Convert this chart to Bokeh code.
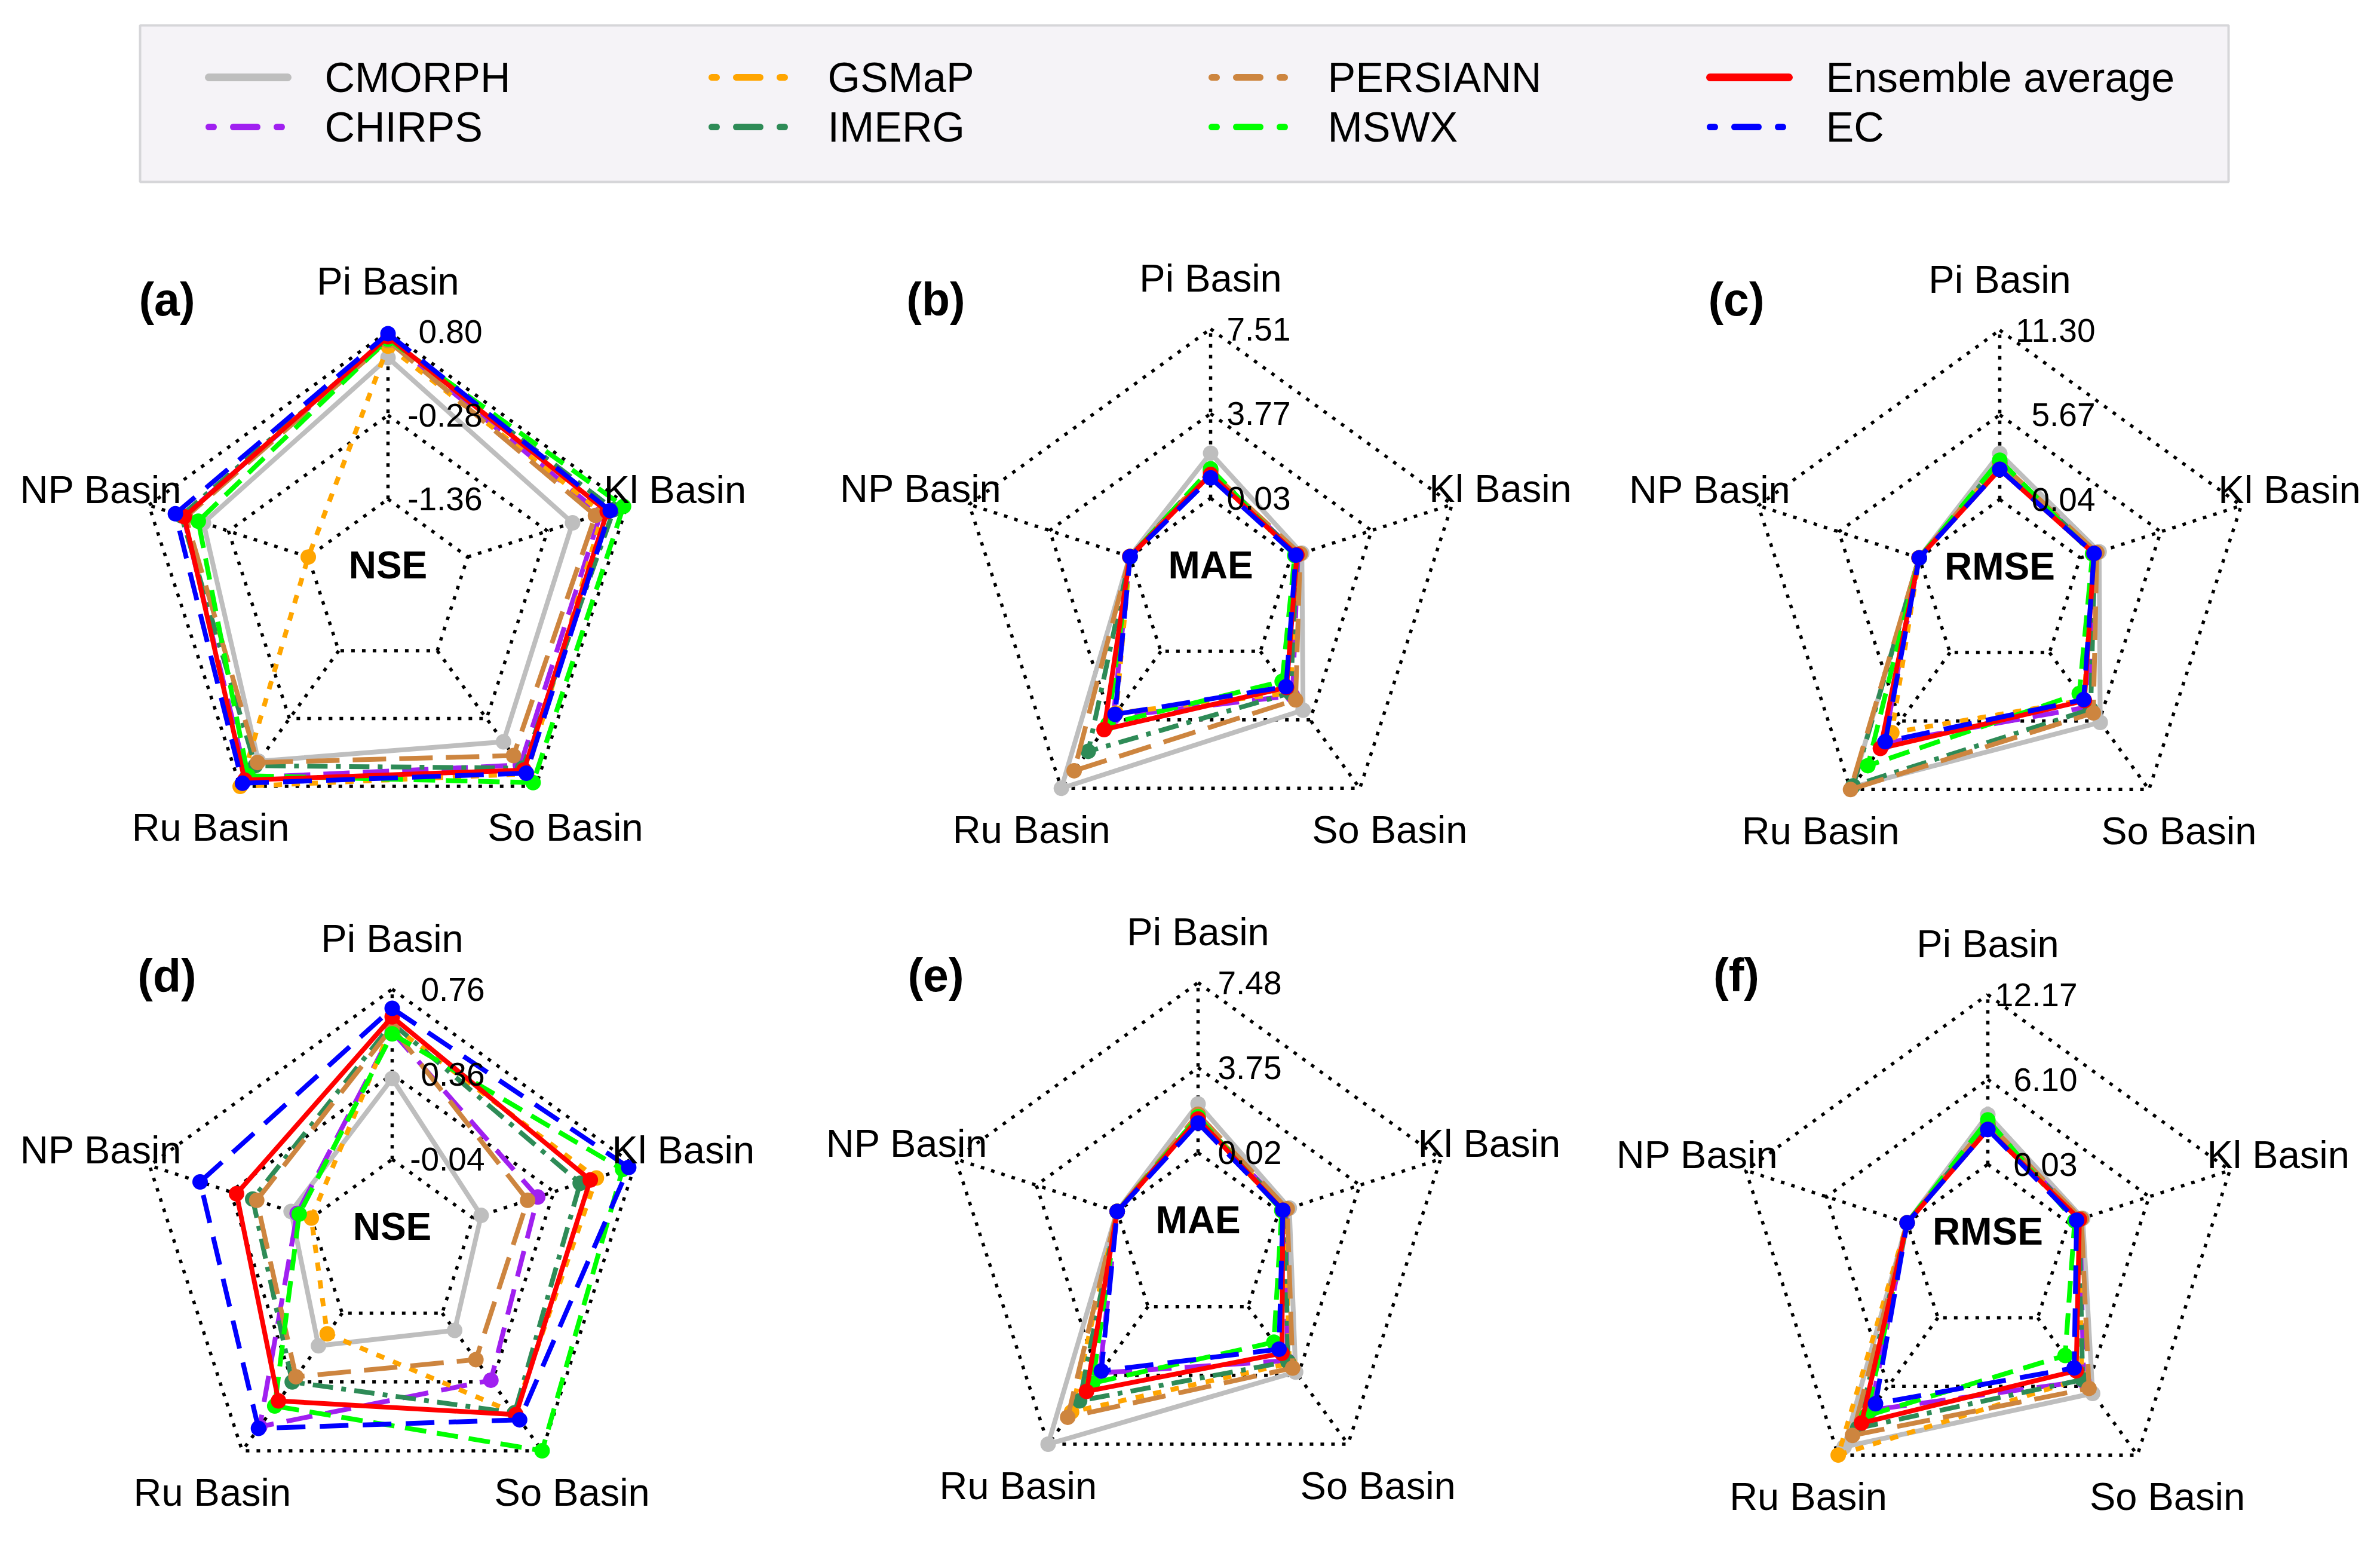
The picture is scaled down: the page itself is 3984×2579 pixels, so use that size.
import math
from bokeh.plotting import figure
from bokeh.models import Range1d
from bokeh.embed import file_html
from bokeh.resources import INLINE
from bokeh.core.properties import value

# ---------------- data ----------------
basins = ["Pi Basin", "Kl Basin", "So Basin", "Ru Basin", "NP Basin"]
products = ["CMORPH", "CHIRPS", "GSMaP", "IMERG", "PERSIANN", "MSWX", "Ensemble average", "EC"]

# values per basin, in the order of `basins`
nse_a = {
    "CMORPH":           [0.46, 0.06, 0.09, 0.40, 0.06],
    "CHIRPS":           [0.70, 0.44, 0.46, 0.66, 0.33],
    "GSMaP":            [0.61, 0.47, 0.60, 0.80, -1.36],
    "IMERG":            [0.71, 0.62, 0.51, 0.47, 0.36],
    "PERSIANN":         [0.68, 0.37, 0.31, 0.42, 0.30],
    "MSWX":             [0.70, 0.75, 0.74, 0.63, 0.13],
    "Ensemble average": [0.73, 0.53, 0.54, 0.70, 0.32],
    "EC":               [0.77, 0.57, 0.59, 0.75, 0.44],
}
mae_b = {
    "CMORPH":           [2.02, 0.53, 3.24, 7.51, 0.05],
    "CHIRPS":           [1.20, 0.35, 2.45, 3.60, 0.04],
    "GSMaP":            [1.25, 0.30, 2.30, 3.40, 0.04],
    "IMERG":            [1.30, 0.30, 2.30, 5.49, 0.04],
    "PERSIANN":         [1.20, 0.45, 2.68, 6.55, 0.05],
    "MSWX":             [1.33, 0.20, 1.67, 4.00, 0.03],
    "Ensemble average": [1.08, 0.30, 2.00, 4.30, 0.04],
    "EC":               [0.93, 0.25, 1.96, 3.47, 0.03],
}
rmse_c = {
    "CMORPH":           [3.09, 1.36, 5.78, 11.10, 0.06],
    "CHIRPS":           [2.40, 1.10, 4.50, 7.50, 0.05],
    "GSMaP":            [2.40, 1.00, 3.95, 6.63, 0.05],
    "IMERG":            [2.50, 1.05, 4.70, 11.00, 0.05],
    "PERSIANN":         [2.50, 1.20, 5.00, 11.30, 0.06],
    "MSWX":             [2.65, 0.90, 3.41, 9.34, 0.04],
    "Ensemble average": [2.04, 1.00, 3.99, 7.92, 0.05],
    "EC":               [2.04, 1.01, 3.90, 7.37, 0.04],
}
nse_d = {
    "CMORPH":           [0.34, 0.00, 0.06, 0.15, 0.06],
    "CHIRPS":           [0.56, 0.28, 0.35, 0.62, 0.03],
    "GSMaP":            [0.59, 0.57, 0.54, 0.08, -0.04],
    "IMERG":            [0.60, 0.49, 0.54, 0.36, 0.25],
    "PERSIANN":         [0.58, 0.23, 0.23, 0.33, 0.23],
    "MSWX":             [0.55, 0.70, 0.76, 0.50, 0.02],
    "Ensemble average": [0.63, 0.54, 0.55, 0.47, 0.33],
    "EC":               [0.67, 0.73, 0.58, 0.63, 0.51],
}
mae_e = {
    "CMORPH":           [2.16, 0.50, 3.57, 7.48, 0.03],
    "CHIRPS":           [1.55, 0.35, 2.95, 3.62, 0.02],
    "GSMaP":            [1.60, 0.30, 3.10, 5.73, 0.02],
    "IMERG":            [1.55, 0.30, 3.00, 5.13, 0.02],
    "PERSIANN":         [1.71, 0.40, 3.35, 6.02, 0.03],
    "MSWX":             [1.60, 0.15, 1.95, 4.17, 0.02],
    "Ensemble average": [1.50, 0.20, 2.55, 4.62, 0.02],
    "EC":               [1.32, 0.20, 2.33, 3.51, 0.02],
}
rmse_f = {
    "CMORPH":           [3.58, 1.10, 6.72, 11.45, 0.04],
    "CHIRPS":           [2.90, 0.90, 5.63, 8.20, 0.03],
    "GSMaP":            [2.90, 0.85, 5.40, 12.17, 0.03],
    "IMERG":            [2.90, 0.85, 5.50, 9.80, 0.03],
    "PERSIANN":         [3.00, 1.00, 6.28, 10.43, 0.04],
    "MSWX":             [3.20, 0.50, 3.37, 8.70, 0.03],
    "Ensemble average": [2.52, 0.85, 4.72, 9.34, 0.03],
    "EC":               [2.52, 0.64, 4.47, 7.63, 0.03],
}

ticks_a = ["-1.36", "-0.28", "0.80"]
ticks_b = ["0.03", "3.77", "7.51"]
ticks_c = ["0.04", "5.67", "11.30"]
ticks_d = ["-0.04", "0.36", "0.76"]
ticks_e = ["0.02", "3.75", "7.48"]
ticks_f = ["0.03", "6.10", "12.17"]

# ---------------- styles ----------------
colors = {
    "CMORPH": "#bebebe", "CHIRPS": "#a020f0", "GSMaP": "#ffa500", "IMERG": "#2e8b57",
    "PERSIANN": "#cd853f", "MSWX": "#00ff00", "Ensemble average": "#ff0000", "EC": "#0000ff",
}
dashes = {
    "CMORPH": "solid", "CHIRPS": "44 22", "GSMaP": "14 16", "IMERG": "34 14 8 14",
    "PERSIANN": "56 22", "MSWX": "36 18", "Ensemble average": "solid", "EC": "48 24",
}
angles = [90, 18, -54, -126, 162]  # degrees, per basin
FONT = value("Liberation Sans")

panels = [
    dict(letter="(a)", metric="NSE",  data=nse_a,  ticks=ticks_a, cx=657,  cy=983,  R=421, tk=158, lx=287,  ly=508),
    dict(letter="(b)", metric="MAE",  data=mae_b,  ticks=ticks_b, cx=2034, cy=983,  R=425, tk=134, lx=1574, ly=508),
    dict(letter="(c)", metric="RMSE", data=rmse_c, ticks=ticks_c, cx=3355, cy=985,  R=425, tk=160, lx=2914, ly=508),
    dict(letter="(d)", metric="NSE",  data=nse_d,  ticks=ticks_d, cx=664,  cy=2090, R=427, tk=155, lx=287,  ly=1640),
    dict(letter="(e)", metric="MAE",  data=mae_e,  ticks=ticks_e, cx=2013, cy=2079, R=427, tk=140, lx=1574, ly=1639),
    dict(letter="(f)", metric="RMSE", data=rmse_f, ticks=ticks_f, cx=3335, cy=2098, R=426, tk=150, lx=2914, ly=1639),
]

W, H = 3968, 2563
p = figure(width=W, height=H, x_range=Range1d(8, 8 + W), y_range=Range1d(8 + H, 8),
           output_backend="svg", toolbar_location=None, x_axis_type=None, y_axis_type=None,
           min_border=0, min_border_left=0, min_border_right=0, min_border_top=0, min_border_bottom=0)
p.grid.visible = False
p.outline_line_color = None
p.background_fill_color = "white"
p.border_fill_color = "white"


def pt(cx, cy, R, r, ang):
    a = math.radians(ang)
    return cx + R * r * math.cos(a), cy - R * r * math.sin(a)


for pan in panels:
    cx, cy, R = pan["cx"], pan["cy"], pan["R"]
    lo, hi = float(pan["ticks"][0]), float(pan["ticks"][-1])
    # grid rings and spokes
    xs, ys = [], []
    for frac in (1 / 3, 2 / 3, 1.0):
        pts = [pt(cx, cy, R, frac, a) for a in angles + angles[:1]]
        xs.append([q[0] for q in pts]); ys.append([q[1] for q in pts])
    for a in angles:
        p0 = pt(cx, cy, R, 1 / 3, a); p1 = pt(cx, cy, R, 1.0, a)
        xs.append([p0[0], p1[0]]); ys.append([p0[1], p1[1]])
    p.multi_line(xs, ys, line_color="black", line_width=5.5, line_dash="6 12")

    # series
    for prod in products:
        vals = pan["data"][prod]
        rs = [(1 + 2 * (v - lo) / (hi - lo)) / 3 for v in vals]
        pts = [pt(cx, cy, R, r, a) for r, a in zip(rs, angles)]
        px = [q[0] for q in pts]; py = [q[1] for q in pts]
        p.line(px + px[:1], py + py[:1], line_color=colors[prod], line_width=8,
               line_dash=dashes[prod], line_join="round")
        p.scatter(px, py, size=26, fill_color=colors[prod], line_color=None)

    # basin labels
    lab = [pt(cx, cy, R, 1.2, a) for a in angles]
    p.text([q[0] for q in lab], [q[1] for q in lab], text=basins, text_font=FONT,
           text_font_size="65px", text_align="center", text_baseline="middle", text_color="black")
    # axis tick labels
    tx = [cx + pan["tk"]] * 3
    ty = [cy - R * f for f in (1 / 3, 2 / 3, 1.0)]
    p.text(tx, ty, text=pan["ticks"], text_font=FONT, text_font_size="55px",
           text_align="right", text_baseline="middle", text_color="black")
    # metric name
    p.text([cx], [cy - 30], text=[pan["metric"]], text_font=FONT, text_font_size="64px",
           text_font_style="bold", text_align="center", text_baseline="middle", text_color="black")
    # panel letter
    p.text([pan["lx"]], [pan["ly"]], text=[pan["letter"]], text_font=FONT, text_font_size="77px",
           text_font_style="bold", text_align="center", text_baseline="middle", text_color="black")

# ---------------- legend ----------------
p.quad(left=[242], right=[3738], top=[50], bottom=[312], fill_color="#f5f3f7",
       line_color="#d6d6d9", line_width=4)
leg_cols = [351, 1193, 2030, 2864]
leg_rows = [137, 220]
for i, prod in enumerate(products):
    col, row = i // 2, i % 2
    x0 = leg_cols[col]; y0 = leg_rows[row]
    if dashes[prod] == "solid":
        p.line([x0 + 6, x0 + 138], [y0, y0], line_color=colors[prod], line_width=13, line_cap="round")
    else:
        p.line([x0 + 6, x0 + 134], [y0, y0], line_color=colors[prod], line_width=11,
               line_dash="8 33 40 33", line_cap="round")
    p.text([x0 + 200], [y0], text=[prod], text_font=FONT, text_font_size="70px",
           text_align="left", text_baseline="middle", text_color="black")

open("out.html", "w").write(file_html(p, INLINE))
